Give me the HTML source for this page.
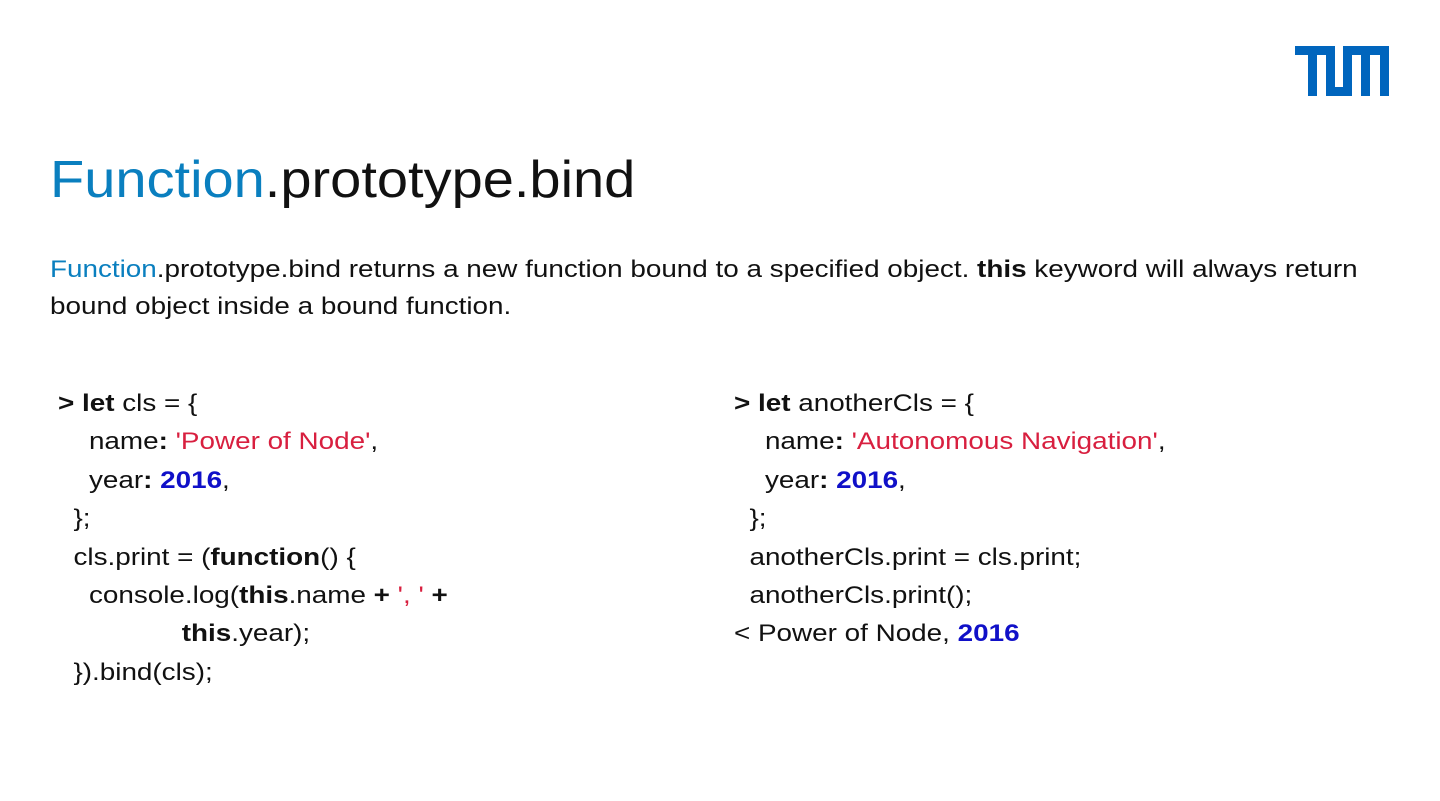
<!DOCTYPE html>
<html><head><meta charset="utf-8"><style>
body{margin:0;width:1440px;height:801px;background:#fff;position:relative;overflow:hidden;font-family:"Liberation Sans",Arial,sans-serif;color:#111}
.t{position:absolute;white-space:pre;transform-origin:0 0}
.blue{color:#0a7fbf}
.str{color:#d81f3f}
.num{color:#1010c8;font-weight:bold}
b{font-weight:bold}
.code{position:absolute;font-size:24px;line-height:38.4px;white-space:pre;transform:scaleX(1.16);transform-origin:0 0}
</style></head><body>
<svg style="position:absolute;left:0;top:0" width="1440" height="801">
<g fill="#0065bd">
<rect x="1295" y="46" width="40" height="9"/>
<rect x="1308" y="46" width="9" height="50"/>
<rect x="1326" y="46" width="9" height="50"/>
<rect x="1326" y="87" width="26" height="9"/>
<rect x="1343" y="46" width="9" height="50"/>
<rect x="1343" y="46" width="46" height="9"/>
<rect x="1361" y="46" width="9" height="50"/>
<rect x="1380" y="46" width="9" height="50"/>
</g></svg>
<div class="t" style="left:50px;top:148px;font-size:52px;line-height:64px;transform:scaleX(1.077)"><span class="blue">Function</span>.prototype.bind</div>
<div class="t" style="left:50px;top:251px;font-size:24px;line-height:37px;transform:scaleX(1.16)"><span class="blue">Function</span>.prototype.bind returns a new function bound to a specified object. <b>this</b> keyword will always return
bound object inside a bound function.</div>
<div class="code" style="left:58px;top:385px"><b>&gt; let</b> cls = {
    name<b>:</b> <span class="str">'Power of Node'</span>,
    year<b>:</b> <span class="num">2016</span>,
  };
  cls.print = (<b>function</b>() {
    console.log(<b>this</b>.name <b>+</b> <span class="str">', '</span> <b>+</b>
                <b>this</b>.year);
  }).bind(cls);</div>
<div class="code" style="left:734px;top:385px"><b>&gt; let</b> anotherCls = {
    name<b>:</b> <span class="str">'Autonomous Navigation'</span>,
    year<b>:</b> <span class="num">2016</span>,
  };
  anotherCls.print = cls.print;
  anotherCls.print();
&lt; Power of Node, <span class="num">2016</span></div>
</body></html>
